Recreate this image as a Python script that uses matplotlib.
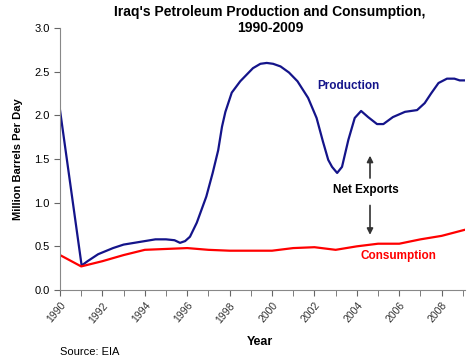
import matplotlib
matplotlib.use('Agg')
import matplotlib.pyplot as plt

plt.rcParams['font.family'] = ['Liberation Sans', 'DejaVu Sans']

# production (year, million barrels per day)
prod_years = [1990.0, 1991.02, 1991.3, 1991.8, 1992.5, 1993.0, 1993.5, 1994.0, 1994.5, 1995.0,
              1995.4, 1995.66, 1995.9, 1996.13, 1996.45, 1996.9, 1997.2, 1997.46, 1997.64, 1997.8,
              1998.1, 1998.5, 1999.1, 1999.45, 1999.75, 2000.05, 2000.4, 2000.8, 2001.2, 2001.7,
              2002.1, 2002.4, 2002.65, 2002.83, 2003.07, 2003.3, 2003.6, 2003.9, 2004.2, 2004.53,
              2004.95, 2005.25, 2005.7, 2006.27, 2006.84, 2007.2, 2007.5, 2007.85, 2008.25, 2008.6,
              2008.85, 2009.1]
prod_vals = [2.06, 0.28, 0.33, 0.41, 0.48, 0.52, 0.54, 0.56, 0.58, 0.58,
             0.57, 0.54, 0.56, 0.61, 0.77, 1.07, 1.34, 1.60, 1.87, 2.04,
             2.26, 2.39, 2.54, 2.59, 2.60, 2.59, 2.56, 2.49, 2.39, 2.20,
             1.97, 1.70, 1.49, 1.41, 1.34, 1.41, 1.72, 1.97, 2.05, 1.98,
             1.90, 1.90, 1.98, 2.04, 2.06, 2.14, 2.25, 2.37, 2.42, 2.42,
             2.40, 2.40]

# consumption
cons_years = [1990.0, 1991.0, 1992.0, 1993.0, 1994.0, 1995.0, 1996.0, 1997.0, 1998.0, 1999.0,
              2000.0, 2001.0, 2002.0, 2003.0, 2004.0, 2005.0, 2006.0, 2007.0, 2008.0, 2009.1]
cons_vals = [0.40, 0.27, 0.33, 0.40, 0.46, 0.47, 0.48, 0.46, 0.45, 0.45,
             0.45, 0.48, 0.49, 0.46, 0.50, 0.53, 0.53, 0.58, 0.62, 0.69]

year_ticks = list(range(1990, 2010, 2))

fig = plt.figure(figsize=(4.68, 3.59), dpi=100)
ax = fig.add_axes([60/468, 1-290/359, 405/468, 262/359])

ax.plot(prod_years, prod_vals, color='#14148a', lw=1.6)
ax.plot(cons_years, cons_vals, color='#ff0000', lw=1.6)

ax.set_xlim(1990, 2009.1)
ax.set_ylim(0, 3.0)
ax.set_yticks([0, 0.5, 1.0, 1.5, 2.0, 2.5, 3.0])
ax.set_yticklabels(['0.0', '0.5', '1.0', '1.5', '2.0', '2.5', '3.0'], fontsize=8)
ax.set_xticks(range(1990, 2010), minor=True)
ax.set_xticks(year_ticks)
ax.set_xticklabels([str(y) for y in year_ticks], rotation=50, ha='right',
                   rotation_mode='anchor', fontsize=7.5, color='#333333')
ax.tick_params(axis='x', which='both', length=4, color='#666666')
ax.tick_params(axis='y', length=4, color='#666666')
for s in ['top', 'right']:
    ax.spines[s].set_visible(False)
for s in ['left', 'bottom']:
    ax.spines[s].set_color('#888888')

ax.set_ylabel('Million Barrels Per Day', fontsize=8, fontweight='bold', labelpad=8)
fig.text(260/468, 1-342/359, 'Year', fontsize=9, fontweight='bold', ha='center', va='center')
fig.text(60/468, 1-352/359, 'Source: EIA', fontsize=8, ha='left', va='center')
fig.text(270/468, 1-20/359, "Iraq's Petroleum Production and Consumption,\n1990-2009",
         fontsize=10, fontweight='bold', ha='center', va='center', linespacing=1.1)

ax.text(2003.58, 2.34, 'Production', color='#14148a', fontsize=8.5, fontweight='bold',
        ha='center', va='center')
ax.text(2005.94, 0.39, 'Consumption', color='#ff0000', fontsize=8.5, fontweight='bold',
        ha='center', va='center')
ax.text(2004.43, 1.15, 'Net Exports', color='black', fontsize=8.5, fontweight='bold',
        ha='center', va='center')
ax.annotate('', xy=(2004.62, 1.57), xytext=(2004.62, 1.25),
            arrowprops=dict(arrowstyle='-|>', color='#333333', lw=1.2, mutation_scale=9))
ax.annotate('', xy=(2004.62, 0.60), xytext=(2004.62, 1.0),
            arrowprops=dict(arrowstyle='-|>', color='#333333', lw=1.2, mutation_scale=9))

fig.savefig('out.png', dpi=100)
